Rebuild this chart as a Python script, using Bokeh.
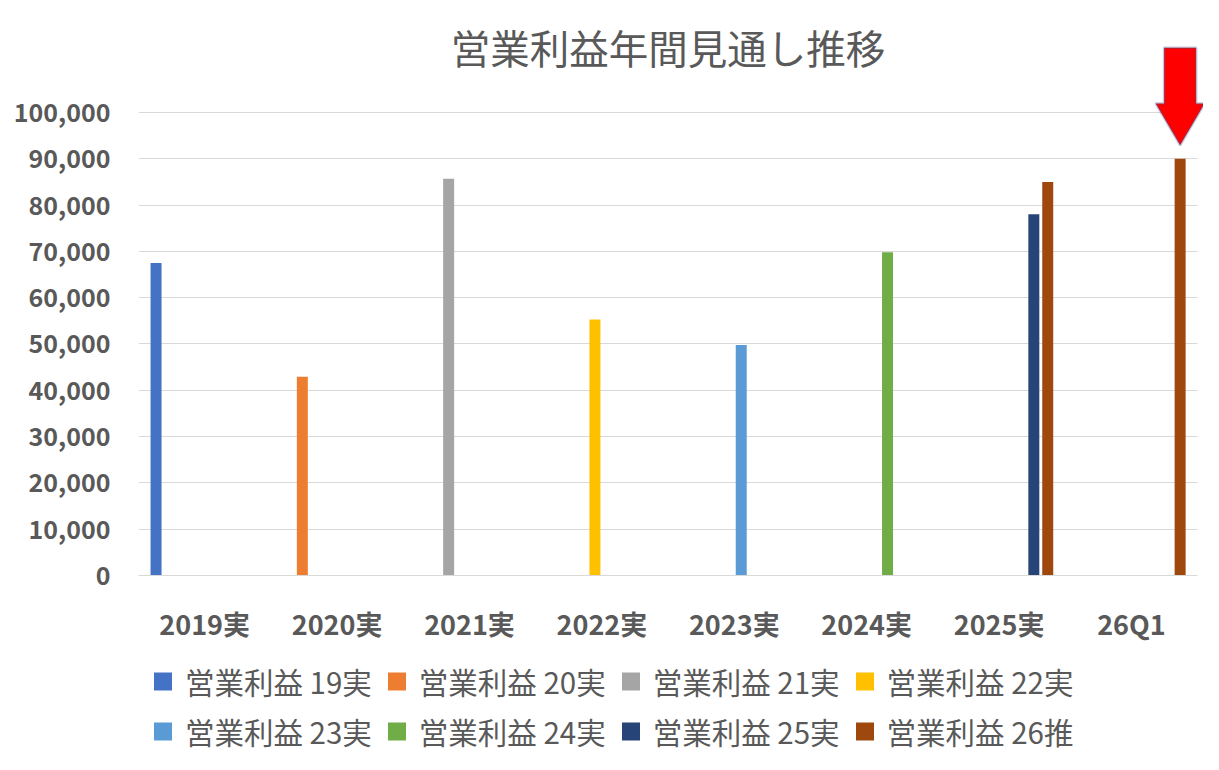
from bokeh.plotting import figure
from bokeh.layouts import column
from bokeh.models import (ColumnDataSource, Range1d, FixedTicker,
                          NumeralTickFormatter, Legend, LegendItem, Label, PolyAnnotation)
from bokeh.embed import file_html
from bokeh.resources import INLINE

# ---------------- data ----------------
categories = ["2019実", "2020実", "2021実", "2022実", "2023実", "2024実", "2025実", "26Q1"]
series_names = ["営業利益 19実", "営業利益 20実", "営業利益 21実", "営業利益 22実",
                "営業利益 23実", "営業利益 24実", "営業利益 25実", "営業利益 26推"]
profit_19 = [67500, None, None, None, None, None, None, None]
profit_20 = [None, 42900, None, None, None, None, None, None]
profit_21 = [None, None, 85700, None, None, None, None, None]
profit_22 = [None, None, None, 55300, None, None, None, None]
profit_23 = [None, None, None, None, 49800, None, None, None]
profit_24 = [None, None, None, None, None, 69800, None, None]
profit_25 = [None, None, None, None, None, None, 78000, None]
profit_26 = [None, None, None, None, None, None, 85000, 90000]
series_values = [profit_19, profit_20, profit_21, profit_22,
                 profit_23, profit_24, profit_25, profit_26]
colors = ["#4472C4", "#ED7D31", "#A5A5A5", "#FFC000",
          "#5B9BD5", "#70AD47", "#264478", "#9E480E"]
y_ticks = [0, 10000, 20000, 30000, 40000, 50000, 60000, 70000, 80000, 90000, 100000]
title_text = "営業利益年間見通し推移"

TEXT = "#595959"
GRID = "#D9D9D9"
FONT = "Noto Sans CJK JP"

n_cat = len(categories)
n = len(series_names)
cat_centers = [i + 0.5 for i in range(n_cat)]

# ---------------- main chart ----------------
p = figure(width=1203, height=645,
           x_range=Range1d(0, n_cat + 0.044),
           y_range=Range1d(0, 119870),
           output_backend="svg", toolbar_location=None,
           min_border_left=138, min_border_right=0,
           min_border_top=20, min_border_bottom=70)
p.background_fill_color = "white"
p.border_fill_color = "white"
p.outline_line_color = None

slot = 0.105
bar_w = 0.083
offsets = [(i - (n - 1) / 2) * slot for i in range(n)]

sources = []
for i, (vals, col) in enumerate(zip(series_values, colors)):
    xs = [cat_centers[k] + offsets[i] for k, v in enumerate(vals) if v is not None]
    vv = [v for v in vals if v is not None]
    src = ColumnDataSource(dict(x=xs, val=vv))
    sources.append(src)
    p.vbar(x="x", top="val", width=bar_w, source=src,
           fill_color=col, line_color=None)

# axes
p.yaxis.ticker = FixedTicker(ticks=y_ticks)
p.ygrid.ticker = FixedTicker(ticks=y_ticks)
p.yaxis.formatter = NumeralTickFormatter(format="0,0")
p.yaxis.axis_line_color = None
p.yaxis.major_tick_line_color = None
p.yaxis.minor_tick_line_color = None
p.yaxis.major_tick_out = 0
p.yaxis.major_tick_in = 0
p.yaxis.major_label_standoff = 28
p.yaxis.major_label_text_font = FONT
p.yaxis.major_label_text_font_style = "bold"
p.yaxis.major_label_text_font_size = "25px"
p.yaxis.major_label_text_color = TEXT

p.xaxis.ticker = FixedTicker(ticks=cat_centers)
p.xaxis.major_label_overrides = {c: lab for c, lab in zip(cat_centers, categories)}
p.xaxis.bounds = (0, n_cat)
p.xaxis.axis_line_color = GRID
p.xaxis.major_tick_line_color = None
p.xaxis.minor_tick_line_color = None
p.xaxis.major_tick_out = 0
p.xaxis.major_tick_in = 0
p.xaxis.major_label_standoff = 28
p.xaxis.major_label_text_font = FONT
p.xaxis.major_label_text_font_style = "bold"
p.xaxis.major_label_text_font_size = "27px"
p.xaxis.major_label_text_color = TEXT

p.xgrid.grid_line_color = None
p.ygrid.grid_line_color = GRID
p.ygrid.grid_line_width = 1
try:
    p.ygrid.cross_bounds = (0, n_cat)
except Exception:
    pass

# title
p.add_layout(Label(x=n_cat / 2, y=114200, text=title_text,
                   text_align="center", text_baseline="middle",
                   text_font=FONT, text_font_size="39.5px", text_color=TEXT))

# red arrow pointing to the latest forecast bar
last = n_cat - 1
ax = cat_centers[last] + offsets[n - 1]
tip = profit_26[last] + 2900
head = 101950
top = 114000
hw, sw = 0.185, 0.121
p.add_layout(PolyAnnotation(
    xs=[ax - sw, ax + sw, ax + sw, ax + hw, ax, ax - hw, ax - sw],
    ys=[top, top, head, head, tip, head, head],
    xs_units="data", ys_units="data",
    fill_color="#FF0000", fill_alpha=1.0,
    line_color="#2F5597", line_width=2.5))

# ---------------- legend strip ----------------
lf = figure(width=1203, height=109, x_range=p.x_range, y_range=p.y_range,
            output_backend="svg", toolbar_location=None,
            x_axis_location=None, y_axis_location=None,
            min_border_left=138, min_border_right=0,
            min_border_top=10, min_border_bottom=0)
lf.grid.visible = False
lf.outline_line_color = None
lf.background_fill_color = "white"
lf.border_fill_color = "white"

items = []
for name, col, src in zip(series_names, colors, sources):
    # zero-size markers: only their legend swatch is visible
    proxy = lf.scatter(x="x", y="val", source=src, marker="square", size=0,
                       fill_color=col, line_color=None)
    items.append(LegendItem(label=name, renderers=[proxy]))

legend = Legend(items=items, orientation="horizontal", nrows=2, location="top_left",
                glyph_width=45, glyph_height=48, label_height=48, label_standoff=0,
                spacing=2, padding=0, margin=2,
                border_line_color=None, background_fill_alpha=0,
                label_text_font=FONT, label_text_font_size="29.5px",
                label_text_color=TEXT)
lf.add_layout(legend, "center")

layout = column(p, lf, spacing=0)
open("out.html", "w").write(file_html(layout, INLINE))
